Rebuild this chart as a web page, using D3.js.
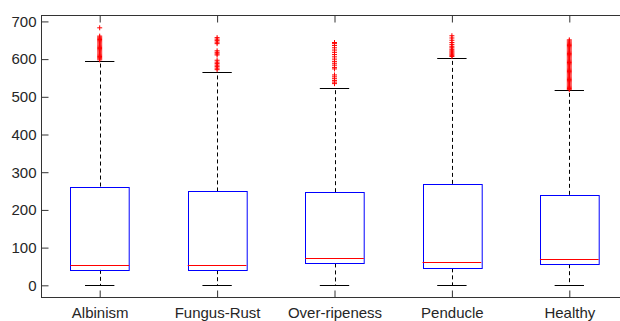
<!DOCTYPE html>
<html>
<head>
<meta charset="utf-8">
<script src="https://cdn.jsdelivr.net/npm/d3@7"></script>
<style>
  body { margin: 0; background: #fff; }
  text { font-family: "Liberation Sans", Arial, sans-serif; font-size: 15px; fill: #262626; }
</style>
</head>
<body>
<div id="chart"></div>
<script>
// Box statistics
const categories = ["Albinism", "Fungus-Rust", "Over-ripeness", "Penducle", "Healthy"];
const lowerWhisker = [0, 0, 0, 0, 0];
const q1 = [41, 40, 58, 45, 56];
const medians = [53, 53, 73, 62, 69];
const q3 = [262, 249, 247, 269, 240];
const upperWhisker = [595, 566, 524, 604, 517];
const yTicks = [0, 100, 200, 300, 400, 500, 600, 700];

// Outliers per category
const outAlbinism = [598, 601, 604, 607, 610, 613, 616, 619, 622, 625, 628, 631, 634, 637, 640, 643, 646, 649, 652, 655, 658, 661, 683];
const outFungus = [572, 576, 580, 584, 588, 592, 597, 611, 614, 618, 622, 641, 645, 649, 653, 657];
const outOver = [535, 539, 543, 548, 553, 558, 574, 578, 584, 589, 594, 600, 606, 612, 618, 624, 630, 636, 641, 644];
const outPenducle = [607, 610, 613, 616, 619, 622, 626, 630, 634, 639, 644, 650, 656, 662];
const outHealthy = [519, 522, 525, 528, 531, 534, 537, 540, 543, 546, 549, 552, 555, 558, 561, 564, 567, 570, 573, 576, 579, 582, 585, 588, 591, 594, 597, 600, 603, 606, 609, 612, 615, 618, 621, 624, 627, 630, 633, 636, 639, 642, 645, 648, 651];
const outliers = [outAlbinism, outFungus, outOver, outPenducle, outHealthy];

const W = 620, H = 321;
const plot = { left: 41, top: 15, right: 628, bottom: 297 };

const svg = d3.select("#chart").append("svg")
  .attr("width", W).attr("height", H);

const x = d3.scaleLinear().domain([0.5, 5.5]).range([plot.left, plot.right]);
const y = d3.scaleLinear().domain([-31, 717]).range([plot.bottom, plot.top]);

const boxes = categories.map((c, i) => ({
  name: c, pos: i + 1,
  lw: lowerWhisker[i], q1: q1[i], med: medians[i], q3: q3[i], uw: upperWhisker[i],
  out: outliers[i]
}));

const axisColor = "#333";

// Frame
svg.append("rect")
  .attr("x", plot.left + 0.5).attr("y", plot.top + 0.5)
  .attr("width", plot.right - plot.left).attr("height", plot.bottom - plot.top)
  .attr("fill", "none").attr("stroke", axisColor).attr("stroke-width", 1);

// Y axis (ticks inside)
const yAxis = svg.append("g")
  .attr("transform", `translate(${plot.left + 0.5},0)`)
  .call(d3.axisLeft(y).tickValues(yTicks).tickSizeInner(-7).tickSizeOuter(0).tickPadding(5));
yAxis.select(".domain").remove();
yAxis.selectAll("line").attr("stroke", axisColor);
yAxis.selectAll("text").style("font-size", "15px").attr("fill", "#262626")
  .attr("font-family", "Liberation Sans, Arial, sans-serif");

// X axis (ticks inside, bottom and top)
const xAxis = svg.append("g")
  .attr("transform", `translate(0,${plot.bottom + 0.5})`)
  .call(d3.axisBottom(x).tickValues(d3.range(1, 6)).tickFormat(d => categories[d - 1])
    .tickSizeInner(-7).tickSizeOuter(0).tickPadding(10));
xAxis.select(".domain").remove();
xAxis.selectAll("line").attr("stroke", axisColor);
xAxis.selectAll("text").style("font-size", "15px").attr("fill", "#262626")
  .attr("font-family", "Liberation Sans, Arial, sans-serif");

const xTop = svg.append("g")
  .attr("transform", `translate(0,${plot.top + 0.5})`)
  .call(d3.axisTop(x).tickValues(d3.range(1, 6)).tickFormat("").tickSizeInner(-7).tickSizeOuter(0));
xTop.select(".domain").remove();
xTop.selectAll("line").attr("stroke", axisColor);

const boxW = x(1.25) - x(1);
const capW = x(1.125) - x(1);

const g = svg.selectAll("g.box").data(boxes).enter().append("g").attr("class", "box");

// Whiskers (dashed)
g.append("line")
  .attr("x1", d => Math.round(x(d.pos)) + 0.5).attr("x2", d => Math.round(x(d.pos)) + 0.5)
  .attr("y1", d => y(d.q3)).attr("y2", d => y(d.uw))
  .attr("stroke", "#000").attr("stroke-dasharray", "4,3");
g.append("line")
  .attr("x1", d => Math.round(x(d.pos)) + 0.5).attr("x2", d => Math.round(x(d.pos)) + 0.5)
  .attr("y1", d => y(d.q1)).attr("y2", d => y(d.lw))
  .attr("stroke", "#000").attr("stroke-dasharray", "4,3");

// Caps
g.append("line")
  .attr("x1", d => x(d.pos) - capW).attr("x2", d => x(d.pos) + capW)
  .attr("y1", d => Math.round(y(d.uw)) + 0.5).attr("y2", d => Math.round(y(d.uw)) + 0.5)
  .attr("stroke", "#000");
g.append("line")
  .attr("x1", d => x(d.pos) - capW).attr("x2", d => x(d.pos) + capW)
  .attr("y1", d => Math.round(y(d.lw)) + 0.5).attr("y2", d => Math.round(y(d.lw)) + 0.5)
  .attr("stroke", "#000");

// Boxes
g.append("rect")
  .attr("x", d => Math.round(x(d.pos) - boxW) + 0.5)
  .attr("y", d => Math.round(y(d.q3)) + 0.5)
  .attr("width", 2 * boxW)
  .attr("height", d => Math.round(y(d.q1)) - Math.round(y(d.q3)))
  .attr("fill", "none").attr("stroke", "#0000ff");

// Medians
g.append("line")
  .attr("x1", d => x(d.pos) - boxW).attr("x2", d => x(d.pos) + boxW)
  .attr("y1", d => Math.round(y(d.med)) + 0.5).attr("y2", d => Math.round(y(d.med)) + 0.5)
  .attr("stroke", "#ff0000");

// Outliers as red '+'
const m = 2.5;
g.each(function(d) {
  d3.select(this).selectAll("path.out").data(d.out).enter().append("path")
    .attr("class", "out")
    .attr("d", v => {
      const cx = x(d.pos), cy = y(v);
      return `M${cx - m},${cy}H${cx + m}M${cx},${cy - m}V${cy + m}`;
    })
    .attr("stroke", "#ff0000").attr("stroke-width", 1).attr("fill", "none");
});
</script>
</body>
</html>
